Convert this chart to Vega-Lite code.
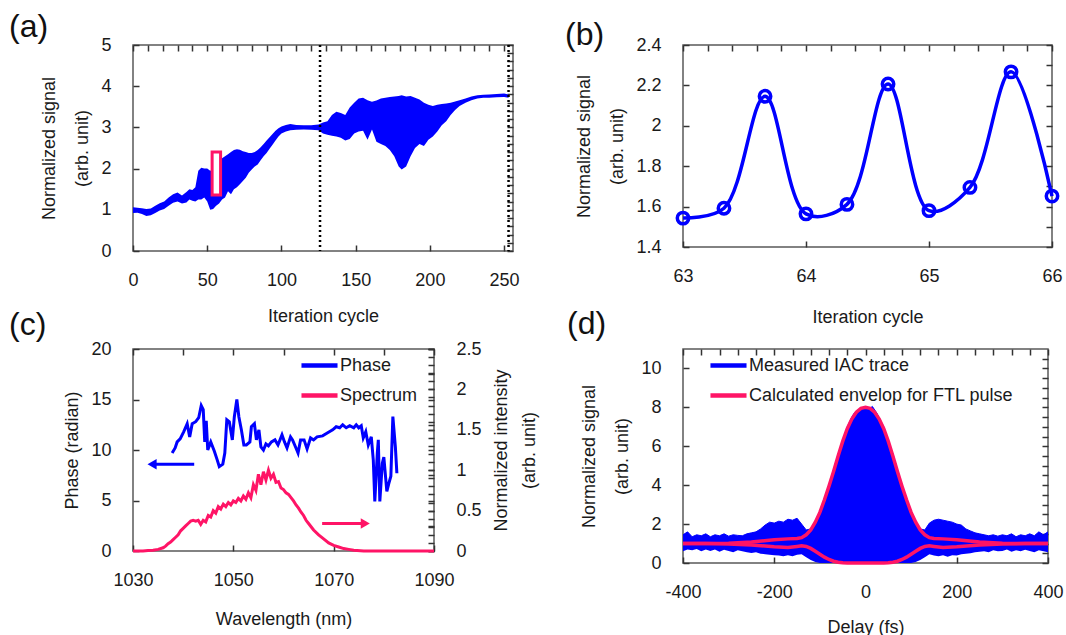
{
  "$schema": "https://vega.github.io/schema/vega-lite/v6.json",
  "background": "white",
  "padding": {"left": 8, "top": 10, "right": 5, "bottom": 5},
  "config": {
    "font": "Liberation Sans",
    "view": {"stroke": "#595959", "strokeWidth": 1.5},
    "axis": {"zindex": 1, "domain": false, "offset": -6, "ticks": true, "tickColor": "#333333", "tickWidth": 1.5, "tickSize": 6, "tickOpacity": 1, "labelFontSize": 18, "labelColor": "#1a1a1a", "titleFontSize": 18, "titleColor": "#1a1a1a", "titleFontWeight": "normal", "grid": false, "titleLineHeight": 33, "labelFlush": false, "labelOverlap": false},
    "axisX": {"titlePadding": 21, "labelPadding": 20},
    "axisY": {"titlePadding": 9, "labelPadding": 22},
    "title": {"fontSize": 32, "fontWeight": "normal", "anchor": "start", "frame": "group", "color": "#111111", "baseline": "alphabetic"},
    "legend": {"symbolType": "stroke", "symbolSize": 1300, "symbolStrokeWidth": 4.5, "labelFontSize": 18, "labelColor": "#1a1a1a", "labelOffset": 0, "rowPadding": 0, "padding": 0, "labelLimit": 500}
  },
  "datasets": {
    "a": [
      {"cycle":0,"lo":0.92,"hi":1.06},{"cycle":3,"lo":0.93,"hi":1.05},{"cycle":6,"lo":0.9,"hi":1.04},{"cycle":9,"lo":0.85,"hi":1.02},{"cycle":12,"lo":0.87,"hi":1.03},{"cycle":15,"lo":0.92,"hi":1.1},{"cycle":18,"lo":0.98,"hi":1.16},{"cycle":21,"lo":1.02,"hi":1.2},{"cycle":24,"lo":1.1,"hi":1.3},{"cycle":27,"lo":1.17,"hi":1.38},{"cycle":30,"lo":1.2,"hi":1.42},{"cycle":33,"lo":1.15,"hi":1.35},{"cycle":36,"lo":1.18,"hi":1.43},{"cycle":38,"lo":1.25,"hi":1.5},{"cycle":40,"lo":1.22,"hi":1.48},{"cycle":42,"lo":1.2,"hi":1.55},{"cycle":44,"lo":1.25,"hi":1.95},{"cycle":46,"lo":1.25,"hi":2.02},{"cycle":48,"lo":1.3,"hi":2.0},{"cycle":50,"lo":1.2,"hi":2.0},{"cycle":52,"lo":1.0,"hi":1.95},{"cycle":54,"lo":1.02,"hi":1.98},{"cycle":56,"lo":1.1,"hi":2.05},{"cycle":58,"lo":1.15,"hi":2.2},{"cycle":60,"lo":1.25,"hi":2.25},{"cycle":62,"lo":1.3,"hi":2.3},{"cycle":64,"lo":1.45,"hi":2.35},{"cycle":66,"lo":1.38,"hi":2.4},{"cycle":68,"lo":1.5,"hi":2.45},{"cycle":70,"lo":1.55,"hi":2.47},{"cycle":72,"lo":1.62,"hi":2.46},{"cycle":74,"lo":1.7,"hi":2.42},{"cycle":76,"lo":1.78,"hi":2.4},{"cycle":78,"lo":1.9,"hi":2.38},{"cycle":80,"lo":1.98,"hi":2.38},{"cycle":82,"lo":2.05,"hi":2.4},{"cycle":84,"lo":2.1,"hi":2.45},{"cycle":86,"lo":2.2,"hi":2.52},{"cycle":88,"lo":2.3,"hi":2.6},{"cycle":90,"lo":2.38,"hi":2.68},{"cycle":92,"lo":2.48,"hi":2.76},{"cycle":94,"lo":2.58,"hi":2.84},{"cycle":96,"lo":2.68,"hi":2.92},{"cycle":98,"lo":2.78,"hi":2.98},{"cycle":100,"lo":2.85,"hi":3.02},{"cycle":103,"lo":2.9,"hi":3.06},{"cycle":106,"lo":2.93,"hi":3.08},{"cycle":110,"lo":2.94,"hi":3.06},{"cycle":115,"lo":2.95,"hi":3.05},{"cycle":120,"lo":2.94,"hi":3.05},{"cycle":125,"lo":2.93,"hi":3.07},{"cycle":128,"lo":2.85,"hi":3.12},{"cycle":131,"lo":2.82,"hi":3.15},{"cycle":134,"lo":2.8,"hi":3.3},{"cycle":137,"lo":2.78,"hi":3.38},{"cycle":140,"lo":2.75,"hi":3.35},{"cycle":143,"lo":2.68,"hi":3.3},{"cycle":146,"lo":2.72,"hi":3.48},{"cycle":149,"lo":2.85,"hi":3.6},{"cycle":152,"lo":2.9,"hi":3.7},{"cycle":155,"lo":2.92,"hi":3.72},{"cycle":158,"lo":2.7,"hi":3.66},{"cycle":161,"lo":2.95,"hi":3.62},{"cycle":164,"lo":2.65,"hi":3.65},{"cycle":167,"lo":2.6,"hi":3.7},{"cycle":170,"lo":2.55,"hi":3.72},{"cycle":173,"lo":2.45,"hi":3.74},{"cycle":176,"lo":2.3,"hi":3.75},{"cycle":179,"lo":2.05,"hi":3.76},{"cycle":181,"lo":1.98,"hi":3.78},{"cycle":184,"lo":2.05,"hi":3.75},{"cycle":187,"lo":2.3,"hi":3.76},{"cycle":190,"lo":2.5,"hi":3.72},{"cycle":193,"lo":2.6,"hi":3.68},{"cycle":196,"lo":2.55,"hi":3.6},{"cycle":199,"lo":2.7,"hi":3.55},{"cycle":202,"lo":2.78,"hi":3.52},{"cycle":205,"lo":2.9,"hi":3.55},{"cycle":208,"lo":3.05,"hi":3.57},{"cycle":211,"lo":3.15,"hi":3.58},{"cycle":214,"lo":3.3,"hi":3.6},{"cycle":217,"lo":3.42,"hi":3.63},{"cycle":220,"lo":3.52,"hi":3.66},{"cycle":224,"lo":3.6,"hi":3.7},{"cycle":228,"lo":3.66,"hi":3.75},{"cycle":232,"lo":3.7,"hi":3.78},{"cycle":236,"lo":3.72,"hi":3.79},{"cycle":240,"lo":3.72,"hi":3.8},{"cycle":245,"lo":3.73,"hi":3.81},{"cycle":250,"lo":3.74,"hi":3.82},{"cycle":253,"lo":3.72,"hi":3.8}
    ],
    "a_rect": [{"x0":53.3,"x1":59.0,"y0":1.36,"y1":2.4}],
    "a_lines": [{"cycle":126},{"cycle":253}],
    "b": [
      {"cycle":63,"signal":1.543},{"cycle":63.333,"signal":1.592},{"cycle":63.667,"signal":2.146},{"cycle":64,"signal":1.564},{"cycle":64.333,"signal":1.611},{"cycle":64.667,"signal":2.207},{"cycle":65,"signal":1.58},{"cycle":65.333,"signal":1.695},{"cycle":65.667,"signal":2.267},{"cycle":66,"signal":1.652}
    ],
    "phase": [
      {"wavelength":1037.8,"phase":9.7},{"wavelength":1038.4,"phase":10.2},{"wavelength":1038.8,"phase":10.8},{"wavelength":1039.4,"phase":11.1},{"wavelength":1040.1,"phase":11.8},{"wavelength":1040.8,"phase":12.6},{"wavelength":1041.3,"phase":11.3},{"wavelength":1041.8,"phase":12.6},{"wavelength":1042.5,"phase":12.8},{"wavelength":1043.1,"phase":13.2},{"wavelength":1043.6,"phase":14.4},{"wavelength":1044.0,"phase":14.0},{"wavelength":1044.3,"phase":10.8},{"wavelength":1044.6,"phase":12.9},{"wavelength":1044.9,"phase":10.0},{"wavelength":1045.5,"phase":10.8},{"wavelength":1046.2,"phase":9.9},{"wavelength":1046.8,"phase":9.0},{"wavelength":1047.2,"phase":8.35},{"wavelength":1047.9,"phase":8.6},{"wavelength":1048.3,"phase":9.7},{"wavelength":1048.7,"phase":13.0},{"wavelength":1049.2,"phase":12.8},{"wavelength":1049.8,"phase":11.0},{"wavelength":1050.2,"phase":13.3},{"wavelength":1050.7,"phase":15.0},{"wavelength":1051.1,"phase":13.3},{"wavelength":1051.6,"phase":12.0},{"wavelength":1052.1,"phase":10.5},{"wavelength":1052.6,"phase":10.5},{"wavelength":1053.3,"phase":10.8},{"wavelength":1053.6,"phase":12.3},{"wavelength":1054.2,"phase":12.6},{"wavelength":1054.6,"phase":11.0},{"wavelength":1055.1,"phase":12.0},{"wavelength":1055.5,"phase":10.3},{"wavelength":1056.0,"phase":10.0},{"wavelength":1056.5,"phase":10.6},{"wavelength":1057.0,"phase":10.4},{"wavelength":1057.6,"phase":10.8},{"wavelength":1058.3,"phase":11.0},{"wavelength":1058.9,"phase":10.5},{"wavelength":1059.7,"phase":11.5},{"wavelength":1060.2,"phase":10.8},{"wavelength":1060.7,"phase":10.2},{"wavelength":1061.4,"phase":11.3},{"wavelength":1061.8,"phase":11.0},{"wavelength":1062.4,"phase":10.3},{"wavelength":1062.9,"phase":9.7},{"wavelength":1063.4,"phase":11.0},{"wavelength":1064.1,"phase":11.0},{"wavelength":1064.7,"phase":10.1},{"wavelength":1065.4,"phase":11.2},{"wavelength":1066.0,"phase":11.0},{"wavelength":1066.7,"phase":11.3},{"wavelength":1067.8,"phase":11.4},{"wavelength":1068.8,"phase":11.7},{"wavelength":1069.8,"phase":12.0},{"wavelength":1070.5,"phase":12.3},{"wavelength":1071.2,"phase":12.2},{"wavelength":1071.8,"phase":12.5},{"wavelength":1072.5,"phase":12.2},{"wavelength":1073.2,"phase":12.4},{"wavelength":1074.0,"phase":12.2},{"wavelength":1074.5,"phase":12.5},{"wavelength":1075.0,"phase":12.2},{"wavelength":1075.5,"phase":12.4},{"wavelength":1075.9,"phase":11.2},{"wavelength":1076.4,"phase":11.8},{"wavelength":1076.9,"phase":10.5},{"wavelength":1077.5,"phase":11.3},{"wavelength":1077.9,"phase":9.0},{"wavelength":1078.2,"phase":4.9},{"wavelength":1078.7,"phase":9.7},{"wavelength":1078.9,"phase":11.0},{"wavelength":1079.2,"phase":4.9},{"wavelength":1079.7,"phase":8.7},{"wavelength":1080.0,"phase":9.3},{"wavelength":1080.6,"phase":5.9},{"wavelength":1081.0,"phase":6.7},{"wavelength":1081.4,"phase":7.4},{"wavelength":1081.8,"phase":13.3},{"wavelength":1082.3,"phase":10.3},{"wavelength":1082.6,"phase":7.7}
    ],
    "spectrum": [
      {"wavelength":1030,"intensity":0},{"wavelength":1032,"intensity":0},{"wavelength":1033,"intensity":0.005},{"wavelength":1034,"intensity":0.01},{"wavelength":1035,"intensity":0.02},{"wavelength":1036,"intensity":0.04},{"wavelength":1036.5,"intensity":0.06},{"wavelength":1037,"intensity":0.09},{"wavelength":1037.5,"intensity":0.11},{"wavelength":1038,"intensity":0.14},{"wavelength":1038.5,"intensity":0.17},{"wavelength":1039,"intensity":0.2},{"wavelength":1039.5,"intensity":0.25},{"wavelength":1040,"intensity":0.28},{"wavelength":1040.5,"intensity":0.31},{"wavelength":1041,"intensity":0.34},{"wavelength":1041.5,"intensity":0.37},{"wavelength":1042,"intensity":0.38},{"wavelength":1042.5,"intensity":0.37},{"wavelength":1043,"intensity":0.38},{"wavelength":1043.5,"intensity":0.33},{"wavelength":1044,"intensity":0.38},{"wavelength":1044.5,"intensity":0.36},{"wavelength":1045,"intensity":0.44},{"wavelength":1045.5,"intensity":0.42},{"wavelength":1046,"intensity":0.5},{"wavelength":1046.5,"intensity":0.47},{"wavelength":1047,"intensity":0.55},{"wavelength":1047.5,"intensity":0.52},{"wavelength":1048,"intensity":0.58},{"wavelength":1048.5,"intensity":0.55},{"wavelength":1049,"intensity":0.6},{"wavelength":1049.5,"intensity":0.57},{"wavelength":1050,"intensity":0.62},{"wavelength":1050.5,"intensity":0.6},{"wavelength":1051,"intensity":0.65},{"wavelength":1051.5,"intensity":0.62},{"wavelength":1052,"intensity":0.68},{"wavelength":1052.5,"intensity":0.64},{"wavelength":1053,"intensity":0.72},{"wavelength":1053.5,"intensity":0.66},{"wavelength":1054,"intensity":0.82},{"wavelength":1054.5,"intensity":0.75},{"wavelength":1055,"intensity":0.95},{"wavelength":1055.5,"intensity":0.82},{"wavelength":1056,"intensity":0.98},{"wavelength":1056.5,"intensity":0.88},{"wavelength":1057,"intensity":1.0},{"wavelength":1057.5,"intensity":0.9},{"wavelength":1058,"intensity":0.95},{"wavelength":1058.5,"intensity":0.85},{"wavelength":1059,"intensity":0.86},{"wavelength":1059.5,"intensity":0.78},{"wavelength":1060,"intensity":0.76},{"wavelength":1060.5,"intensity":0.72},{"wavelength":1061,"intensity":0.7},{"wavelength":1061.5,"intensity":0.66},{"wavelength":1062,"intensity":0.62},{"wavelength":1062.5,"intensity":0.57},{"wavelength":1063,"intensity":0.53},{"wavelength":1063.5,"intensity":0.48},{"wavelength":1064,"intensity":0.44},{"wavelength":1064.5,"intensity":0.38},{"wavelength":1065,"intensity":0.34},{"wavelength":1065.5,"intensity":0.3},{"wavelength":1066,"intensity":0.26},{"wavelength":1067,"intensity":0.2},{"wavelength":1068,"intensity":0.15},{"wavelength":1069,"intensity":0.1},{"wavelength":1070,"intensity":0.07},{"wavelength":1071,"intensity":0.05},{"wavelength":1072,"intensity":0.03},{"wavelength":1073,"intensity":0.02},{"wavelength":1074,"intensity":0.01},{"wavelength":1076,"intensity":0},{"wavelength":1090,"intensity":0}
    ],
    "arrow_phase": [{"wavelength":1034.2,"wl2":1042.2,"phase":8.6}],
    "head_phase": [{"wavelength":1033.8,"phase":8.6}],
    "arrow_spec": [{"wavelength":1067.7,"wl2":1075.8,"intensity":0.34}],
    "head_spec": [{"wavelength":1076.3,"intensity":0.34}],
    "iac": [
      {"delay":-400,"lo":0.6,"hi":1.45},{"delay":-390,"lo":0.7,"hi":1.6},{"delay":-380,"lo":0.65,"hi":1.35},{"delay":-370,"lo":0.72,"hi":1.45},{"delay":-360,"lo":0.6,"hi":1.4},{"delay":-350,"lo":0.7,"hi":1.5},{"delay":-340,"lo":0.62,"hi":1.35},{"delay":-330,"lo":0.7,"hi":1.45},{"delay":-320,"lo":0.58,"hi":1.4},{"delay":-310,"lo":0.68,"hi":1.5},{"delay":-300,"lo":0.62,"hi":1.38},{"delay":-290,"lo":0.55,"hi":1.45},{"delay":-280,"lo":0.65,"hi":1.42},{"delay":-270,"lo":0.6,"hi":1.4},{"delay":-260,"lo":0.55,"hi":1.5},{"delay":-250,"lo":0.52,"hi":1.55},{"delay":-240,"lo":0.55,"hi":1.6},{"delay":-230,"lo":0.48,"hi":1.75},{"delay":-220,"lo":0.45,"hi":1.95},{"delay":-210,"lo":0.42,"hi":2.1},{"delay":-200,"lo":0.4,"hi":2.05},{"delay":-190,"lo":0.38,"hi":2.15},{"delay":-180,"lo":0.35,"hi":2.1},{"delay":-170,"lo":0.4,"hi":2.25},{"delay":-160,"lo":0.35,"hi":2.2},{"delay":-150,"lo":0.42,"hi":2.3},{"delay":-140,"lo":0.45,"hi":2.0},{"delay":-130,"lo":0.3,"hi":1.7},{"delay":-120,"lo":0.15,"hi":1.75},{"delay":-110,"lo":0.05,"hi":2.0},{"delay":-100,"lo":0,"hi":2.6},{"delay":-90,"lo":0,"hi":3.3},{"delay":-80,"lo":0,"hi":4.0},{"delay":-70,"lo":0,"hi":4.8},{"delay":-60,"lo":0,"hi":5.6},{"delay":-50,"lo":0,"hi":6.3},{"delay":-40,"lo":0,"hi":7.0},{"delay":-30,"lo":0,"hi":7.5},{"delay":-25,"lo":0,"hi":7.7},{"delay":-15,"lo":0,"hi":7.8},{"delay":0,"lo":0,"hi":8.0},{"delay":10,"lo":0,"hi":7.95},{"delay":15,"lo":0,"hi":8.05},{"delay":25,"lo":0,"hi":7.7},{"delay":40,"lo":0,"hi":7.0},{"delay":50,"lo":0,"hi":6.3},{"delay":60,"lo":0,"hi":5.6},{"delay":70,"lo":0,"hi":4.8},{"delay":80,"lo":0,"hi":4.0},{"delay":90,"lo":0,"hi":3.3},{"delay":100,"lo":0,"hi":2.65},{"delay":110,"lo":0.05,"hi":2.0},{"delay":120,"lo":0.15,"hi":1.75},{"delay":130,"lo":0.3,"hi":1.7},{"delay":140,"lo":0.45,"hi":2.05},{"delay":150,"lo":0.38,"hi":2.2},{"delay":160,"lo":0.35,"hi":2.25},{"delay":170,"lo":0.4,"hi":2.2},{"delay":180,"lo":0.32,"hi":2.15},{"delay":190,"lo":0.4,"hi":2.1},{"delay":200,"lo":0.38,"hi":2.0},{"delay":210,"lo":0.45,"hi":1.95},{"delay":220,"lo":0.48,"hi":1.75},{"delay":230,"lo":0.5,"hi":1.65},{"delay":240,"lo":0.55,"hi":1.55},{"delay":250,"lo":0.58,"hi":1.5},{"delay":260,"lo":0.6,"hi":1.45},{"delay":270,"lo":0.55,"hi":1.4},{"delay":280,"lo":0.65,"hi":1.45},{"delay":290,"lo":0.6,"hi":1.38},{"delay":300,"lo":0.62,"hi":1.45},{"delay":310,"lo":0.7,"hi":1.4},{"delay":320,"lo":0.58,"hi":1.5},{"delay":330,"lo":0.65,"hi":1.35},{"delay":340,"lo":0.6,"hi":1.45},{"delay":350,"lo":0.68,"hi":1.4},{"delay":360,"lo":0.62,"hi":1.5},{"delay":370,"lo":0.55,"hi":1.4},{"delay":380,"lo":0.65,"hi":1.6},{"delay":390,"lo":0.6,"hi":1.45},{"delay":400,"lo":0.55,"hi":1.6}
    ],
    "env": [
      {"delay":-400,"env":1.0,"branch":"upper"},{"delay":-350,"env":1.0,"branch":"upper"},{"delay":-300,"env":1.02,"branch":"upper"},{"delay":-250,"env":1.08,"branch":"upper"},{"delay":-200,"env":1.2,"branch":"upper"},{"delay":-170,"env":1.24,"branch":"upper"},{"delay":-150,"env":1.26,"branch":"upper"},{"delay":-140,"env":1.3,"branch":"upper"},{"delay":-130,"env":1.45,"branch":"upper"},{"delay":-120,"env":1.7,"branch":"upper"},{"delay":-110,"env":2.1,"branch":"upper"},{"delay":-100,"env":2.6,"branch":"upper"},{"delay":-90,"env":3.25,"branch":"upper"},{"delay":-80,"env":3.95,"branch":"upper"},{"delay":-70,"env":4.7,"branch":"upper"},{"delay":-60,"env":5.5,"branch":"upper"},{"delay":-50,"env":6.25,"branch":"upper"},{"delay":-40,"env":6.9,"branch":"upper"},{"delay":-30,"env":7.4,"branch":"upper"},{"delay":-20,"env":7.75,"branch":"upper"},{"delay":-10,"env":7.95,"branch":"upper"},{"delay":0,"env":8.0,"branch":"upper"},{"delay":10,"env":7.95,"branch":"upper"},{"delay":20,"env":7.75,"branch":"upper"},{"delay":30,"env":7.4,"branch":"upper"},{"delay":40,"env":6.9,"branch":"upper"},{"delay":50,"env":6.25,"branch":"upper"},{"delay":60,"env":5.5,"branch":"upper"},{"delay":70,"env":4.7,"branch":"upper"},{"delay":80,"env":3.95,"branch":"upper"},{"delay":90,"env":3.25,"branch":"upper"},{"delay":100,"env":2.6,"branch":"upper"},{"delay":110,"env":2.1,"branch":"upper"},{"delay":120,"env":1.7,"branch":"upper"},{"delay":130,"env":1.45,"branch":"upper"},{"delay":140,"env":1.3,"branch":"upper"},{"delay":150,"env":1.26,"branch":"upper"},{"delay":170,"env":1.24,"branch":"upper"},{"delay":200,"env":1.2,"branch":"upper"},{"delay":250,"env":1.08,"branch":"upper"},{"delay":300,"env":1.02,"branch":"upper"},{"delay":350,"env":1.0,"branch":"upper"},{"delay":400,"env":1.0,"branch":"upper"},
      {"delay":-400,"env":1.0,"branch":"lower"},{"delay":-350,"env":1.0,"branch":"lower"},{"delay":-300,"env":0.98,"branch":"lower"},{"delay":-250,"env":0.93,"branch":"lower"},{"delay":-200,"env":0.83,"branch":"lower"},{"delay":-170,"env":0.8,"branch":"lower"},{"delay":-150,"env":0.85,"branch":"lower"},{"delay":-140,"env":0.88,"branch":"lower"},{"delay":-130,"env":0.85,"branch":"lower"},{"delay":-120,"env":0.75,"branch":"lower"},{"delay":-110,"env":0.6,"branch":"lower"},{"delay":-100,"env":0.45,"branch":"lower"},{"delay":-90,"env":0.3,"branch":"lower"},{"delay":-80,"env":0.18,"branch":"lower"},{"delay":-70,"env":0.09,"branch":"lower"},{"delay":-60,"env":0.04,"branch":"lower"},{"delay":-50,"env":0.01,"branch":"lower"},{"delay":-40,"env":0,"branch":"lower"},{"delay":0,"env":0,"branch":"lower"},{"delay":40,"env":0,"branch":"lower"},{"delay":50,"env":0.01,"branch":"lower"},{"delay":60,"env":0.04,"branch":"lower"},{"delay":70,"env":0.09,"branch":"lower"},{"delay":80,"env":0.18,"branch":"lower"},{"delay":90,"env":0.3,"branch":"lower"},{"delay":100,"env":0.45,"branch":"lower"},{"delay":110,"env":0.6,"branch":"lower"},{"delay":120,"env":0.75,"branch":"lower"},{"delay":130,"env":0.85,"branch":"lower"},{"delay":140,"env":0.88,"branch":"lower"},{"delay":150,"env":0.85,"branch":"lower"},{"delay":170,"env":0.8,"branch":"lower"},{"delay":200,"env":0.83,"branch":"lower"},{"delay":250,"env":0.93,"branch":"lower"},{"delay":300,"env":0.98,"branch":"lower"},{"delay":350,"env":1.0,"branch":"lower"},{"delay":400,"env":1.0,"branch":"lower"}
    ]
  },
  "bounds": "flush",
  "columns": 2,
  "spacing": {"row": 98, "column": 170},
  "resolve": {"scale": {"color": "independent"}, "legend": {"color": "independent"}},
  "concat": [
    {
      "width": 380, "height": 206,
      "title": {"text": "(a)", "dx": -124, "offset": -8},
      "resolve": {"axis": {"x": "independent", "y": "independent"}},
      "layer": [
        {
          "data": {"name": "a"},
          "mark": {"type": "area", "color": "#0000ff"},
          "encoding": {
            "x": {"field": "cycle", "type": "quantitative", "scale": {"domain": [0, 256], "nice": false},
                  "axis": {"title": "Iteration cycle", "titlePadding": 18, "values": [0,50,100,150,200,250], "format": "d"}},
            "y": {"field": "lo", "type": "quantitative", "scale": {"domain": [0, 5], "nice": false},
                  "axis": {"title": ["Normalized signal", "(arb. unit)"], "values": [0,1,2,3,4,5], "format": "d"}},
            "y2": {"field": "hi"}
          }
        },
        {
          "data": {"name": "a_rect"},
          "mark": {"type": "rect", "fill": "white", "stroke": "#ff1466", "strokeWidth": 3},
          "encoding": {
            "x": {"field": "x0", "type": "quantitative", "axis": {"title": null, "labels": false, "values": [0,10,20,30,40,50,60,70,80,90,100,110,120,130,140,150,160,170,180,190,200,210,220,230,240,250]}},
            "x2": {"field": "x1"},
            "y": {"field": "y0", "type": "quantitative", "axis": {"title": null, "labels": false, "values": [0,0.2,0.4,0.6,0.8,1,1.2,1.4,1.6,1.8,2,2.2,2.4,2.6,2.8,3,3.2,3.4,3.6,3.8,4,4.2,4.4,4.6,4.8,5]}},
            "y2": {"field": "y1"}
          }
        },
        {
          "data": {"name": "a_lines"},
          "mark": {"type": "rule", "color": "#000000", "strokeDash": [2, 3], "strokeWidth": 2.5},
          "encoding": {"x": {"field": "cycle", "type": "quantitative", "axis": null}}
        }
      ]
    },
    {
      "width": 369, "height": 202,
      "title": {"text": "(b)", "dx": -118, "offset": -16},
      "resolve": {"axis": {"x": "independent", "y": "independent"}},
      "layer": [
        {
          "data": {"name": "b"},
          "mark": {"type": "line", "interpolate": "catmull-rom", "color": "#0000ff", "strokeWidth": 3.5},
          "encoding": {
            "x": {"field": "cycle", "type": "quantitative", "scale": {"domain": [63, 66], "nice": false, "zero": false},
                  "axis": {"title": "Iteration cycle", "titlePadding": 23, "values": [63,64,65,66], "format": "d"}},
            "y": {"field": "signal", "type": "quantitative", "scale": {"domain": [1.4, 2.4], "nice": false, "zero": false},
                  "axis": {"title": ["Normalized signal", "(arb. unit)"], "values": [1.4,1.6,1.8,2,2.2,2.4], "format": "~g"}}
          }
        },
        {
          "data": {"name": "b"},
          "mark": {"type": "point", "shape": "circle", "filled": false, "color": "#0000ff", "size": 130, "strokeWidth": 3.5, "opacity": 1},
          "encoding": {
            "x": {"field": "cycle", "type": "quantitative", "axis": {"title": null, "labels": false, "values": [63,63.2,63.4,63.6,63.8,64,64.2,64.4,64.6,64.8,65,65.2,65.4,65.6,65.8,66]}},
            "y": {"field": "signal", "type": "quantitative", "axis": {"title": null, "labels": false, "values": [1.4,1.5,1.6,1.7,1.8,1.9,2,2.1,2.2,2.3,2.4]}}
          }
        }
      ]
    },
    {
      "width": 301, "height": 202,
      "title": {"text": "(c)", "dx": -124, "offset": -2},
      "resolve": {"scale": {"y": "independent"}, "axis": {"x": "independent"}},
      "layer": [
        {
          "resolve": {"axis": {"y": "independent"}},
          "layer": [
            {
              "data": {"name": "phase"},
              "mark": {"type": "line", "strokeWidth": 3},
              "encoding": {
                "x": {"field": "wavelength", "type": "quantitative", "scale": {"domain": [1030, 1090], "nice": false, "zero": false},
                      "axis": {"title": "Wavelength (nm)", "values": [1030,1050,1070,1090], "format": "d"}},
                "y": {"field": "phase", "type": "quantitative", "scale": {"domain": [0, 20], "nice": false},
                      "axis": {"title": "Phase (radian)", "values": [0,5,10,15,20], "format": "d"}},
                "color": {"datum": "Phase", "type": "nominal", "scale": {"domain": ["Phase", "Spectrum"], "range": ["#0000ff", "#ff1466"]},
                          "legend": {"orient": "none", "legendX": 166, "legendY": -4, "title": null}}
              }
            },
            {
              "data": {"name": "arrow_phase"},
              "mark": {"type": "rule", "color": "#0000ff", "strokeWidth": 3},
              "encoding": {
                "x": {"field": "wavelength", "type": "quantitative"},
                "x2": {"field": "wl2"},
                "y": {"field": "phase", "type": "quantitative", "axis": {"title": null, "labels": false, "values": [0,2.5,5,7.5,10,12.5,15,17.5,20]}}
              }
            },
            {
              "data": {"name": "head_phase"},
              "mark": {"type": "point", "shape": "triangle-left", "filled": true, "color": "#0000ff", "size": 110, "opacity": 1},
              "encoding": {
                "x": {"field": "wavelength", "type": "quantitative"},
                "y": {"field": "phase", "type": "quantitative", "axis": null}
              }
            }
          ]
        },
        {
          "resolve": {"axis": {"y": "independent"}},
          "layer": [
            {
              "data": {"name": "spectrum"},
              "mark": {"type": "line", "strokeWidth": 3},
              "encoding": {
                "x": {"field": "wavelength", "type": "quantitative",
                      "axis": {"title": null, "labels": false, "values": [1030,1035,1040,1045,1050,1055,1060,1065,1070,1075,1080,1085,1090]}},
                "y": {"field": "intensity", "type": "quantitative", "scale": {"domain": [0, 2.5], "nice": false},
                      "axis": {"orient": "right", "title": ["Normalized intensity", "(arb. unit)"], "titleAngle": -90, "titleBaseline": "top", "titlePadding": -17, "titleLineHeight": 28, "values": [0,0.5,1,1.5,2,2.5], "format": "~g"}},
                "color": {"datum": "Spectrum", "type": "nominal"}
              }
            },
            {
              "data": {"name": "arrow_spec"},
              "mark": {"type": "rule", "color": "#ff1466", "strokeWidth": 3},
              "encoding": {
                "x": {"field": "wavelength", "type": "quantitative"},
                "x2": {"field": "wl2"},
                "y": {"field": "intensity", "type": "quantitative", "axis": {"orient": "right", "title": null, "labels": false, "values": [0,0.1,0.2,0.3,0.4,0.5,0.6,0.7,0.8,0.9,1,1.1,1.2,1.3,1.4,1.5,1.6,1.7,1.8,1.9,2,2.1,2.2,2.3,2.4,2.5]}}
              }
            },
            {
              "data": {"name": "head_spec"},
              "mark": {"type": "point", "shape": "triangle-right", "filled": true, "color": "#ff1466", "size": 110, "opacity": 1},
              "encoding": {
                "x": {"field": "wavelength", "type": "quantitative"},
                "y": {"field": "intensity", "type": "quantitative", "axis": null}
              }
            }
          ]
        }
      ]
    },
    {
      "width": 365, "height": 214,
      "title": {"text": "(d)", "dx": -116, "offset": 4},
      "resolve": {"axis": {"x": "independent", "y": "independent"}},
      "layer": [
        {
          "data": {"name": "iac"},
          "mark": {"type": "area", "color": "#0000ff"},
          "encoding": {
            "x": {"field": "delay", "type": "quantitative", "scale": {"domain": [-400, 400], "nice": false},
                  "axis": {"title": "Delay (fs)", "titlePadding": 17, "values": [-400,-200,0,200,400], "labelExpr": "'' + datum.value"}},
            "y": {"field": "lo", "type": "quantitative", "scale": {"domain": [0, 11], "nice": false},
                  "axis": {"title": ["Normalized signal", "(arb. unit)"], "values": [0,2,4,6,8,10], "format": "d"}},
            "y2": {"field": "hi"}
          }
        },
        {
          "data": {"name": "iac"},
          "mark": {"type": "line", "strokeWidth": 1},
          "encoding": {
            "x": {"field": "delay", "type": "quantitative", "axis": {"title": null, "labels": false, "values": [-400,-360,-320,-280,-240,-200,-160,-120,-80,-40,0,40,80,120,160,200,240,280,320,360,400]}},
            "y": {"field": "hi", "type": "quantitative", "axis": {"title": null, "labels": false, "values": [0,0.5,1,1.5,2,2.5,3,3.5,4,4.5,5,5.5,6,6.5,7,7.5,8,8.5,9,9.5,10,10.5]}},
            "color": {"datum": "Measured IAC trace", "type": "nominal", "scale": {"domain": ["Measured IAC trace", "Calculated envelop for FTL pulse"], "range": ["#0000ff", "#ff1466"]},
                      "legend": {"orient": "none", "legendX": 25, "legendY": -4, "title": null}}
          }
        },
        {
          "data": {"name": "env"},
          "mark": {"type": "line", "strokeWidth": 3.5},
          "encoding": {
            "x": {"field": "delay", "type": "quantitative", "axis": null},
            "y": {"field": "env", "type": "quantitative", "axis": null},
            "detail": {"field": "branch", "type": "nominal"},
            "color": {"datum": "Calculated envelop for FTL pulse", "type": "nominal"}
          }
        }
      ]
    }
  ]
}
